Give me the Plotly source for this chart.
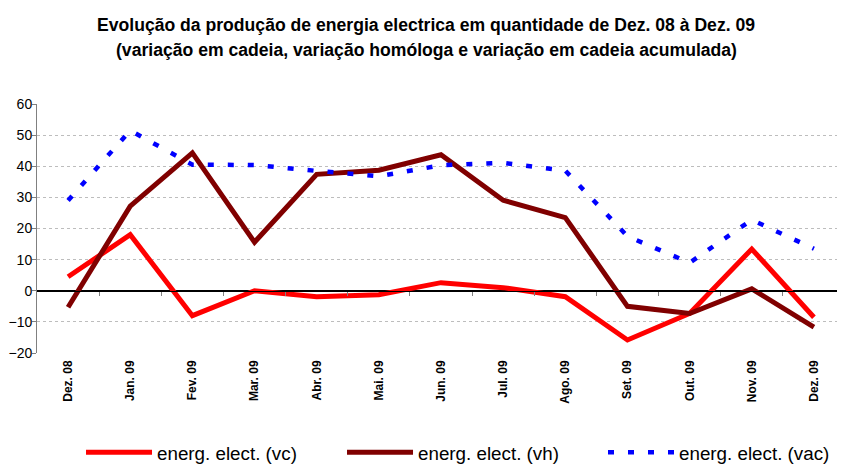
import plotly.graph_objects as go

months = ["Dez. 08", "Jan. 09", "Fev. 09", "Mar. 09", "Abr. 09", "Mai. 09", "Jun. 09",
          "Jul. 09", "Ago. 09", "Set. 09", "Out. 09", "Nov. 09", "Dez. 09"]
vc = [4.5, 18.0, -8.0, 0.0, -1.9, -1.3, 2.6, 1.0, -1.9, -15.8, -7.3, 13.4, -8.5]
vh = [-5.3, 27.2, 44.3, 15.6, 37.4, 38.7, 43.7, 29.1, 23.5, -5.0, -7.3, 0.6, -11.7]
vac = [29.0, 51.5, 40.5, 40.4, 38.5, 36.8, 40.3, 41.1, 38.6, 17.5, 9.0, 22.8, 13.5]
names = ["energ. elect. (vc)", "energ. elect. (vh)", "energ. elect. (vac)"]
y_ticks = [-20, -10, 0, 10, 20, 30, 40, 50, 60]
title_lines = ["Evolução da produção de energia electrica em quantidade de Dez. 08 à Dez. 09",
               "(variação em cadeia, variação homóloga e variação em cadeia acumulada)"]

idx = list(range(len(months)))
bounds = [i + 0.5 for i in idx[:-1]]

fig = go.Figure()
fig.add_trace(go.Scatter(x=idx, y=vc, mode="lines", name=names[0],
                         line=dict(color="#FF0000", width=5)))
fig.add_trace(go.Scatter(x=idx, y=vh, mode="lines", name=names[1],
                         line=dict(color="#800000", width=5)))
fig.add_trace(go.Scatter(x=idx, y=vac, mode="lines", name=names[2],
                         line=dict(color="#0000FF", width=4.5, dash="6px,14px")))
fig.add_trace(go.Scatter(x=[None], y=[None], xaxis="x2", showlegend=False, hoverinfo="skip"))

title_font = dict(family="Liberation Sans, Arial", size=17.6, color="black", weight="bold")
fig.add_annotation(text=title_lines[0], xref="paper", yref="paper", x=0.482, y=1.0,
                   yshift=79, xanchor="center", yanchor="middle", showarrow=False,
                   font=title_font)
fig.add_annotation(text=title_lines[1], xref="paper", yref="paper", x=0.482, y=1.0,
                   yshift=54, xanchor="center", yanchor="middle", showarrow=False,
                   font=title_font)

# page body has an 8px margin: size the figure so it fits the 845x466 window
fig.update_layout(
    width=837, height=458,
    margin=dict(l=29, r=0, t=96, b=113, autoexpand=False),
    paper_bgcolor="white", plot_bgcolor="white",
    font=dict(family="Liberation Sans, Arial, sans-serif", color="black"),
    xaxis=dict(
        range=[-0.5, len(months) - 0.5], tickmode="array", tickvals=idx, ticktext=months,
        tickangle=-90, showgrid=False, showline=False, zeroline=False, ticks="",
        ticklabelstandoff=4, automargin=False,
        tickfont=dict(family="Liberation Sans, Arial", size=12, color="black", weight="bold"),
    ),
    xaxis2=dict(
        range=[-0.5, len(months) - 0.5], overlaying="x", anchor="free", position=0.25,
        side="bottom", tickmode="array", tickvals=bounds, showticklabels=False,
        ticks="outside", ticklen=4, tickcolor="#808080", showline=True, linecolor="black",
        linewidth=1, showgrid=False, zeroline=False,
    ),
    yaxis=dict(
        range=[-20, 60], tickmode="array", tickvals=y_ticks, automargin=False,
        showgrid=True, gridcolor="#BDBDBD", griddash="dot", gridwidth=1,
        zeroline=True, zerolinecolor="black", zerolinewidth=1,
        showline=True, linecolor="#808080", linewidth=1,
        ticks="outside", ticklen=4, tickcolor="#808080", ticklabelstandoff=-3,
        tickfont=dict(size=14, color="black"),
    ),
    legend=dict(
        orientation="h", x=0.539, xanchor="center", y=-0.40, yanchor="middle",
        font=dict(size=18.8, color="black"), itemwidth=66, entrywidth=180,
        bgcolor="rgba(0,0,0,0)",
    ),
    showlegend=True,
)

fig.write_html("out.html")
